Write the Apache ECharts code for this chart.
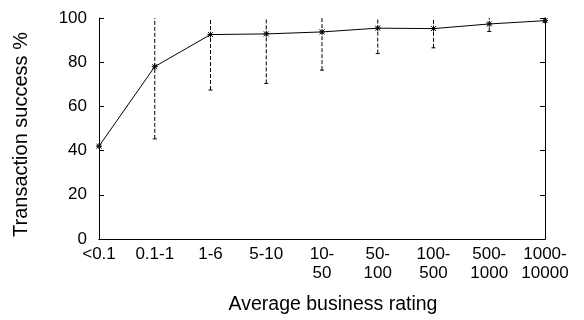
<!DOCTYPE html>
<html><head><meta charset="utf-8">
<script src="https://cdn.jsdelivr.net/npm/echarts@6/dist/echarts.min.js"></script>
<style>html,body{margin:0;padding:0;background:#fff}#c{width:584px;height:320px}</style>
</head><body><div id="c"></div>
<script>
const categories = ['<0.1','0.1-1','1-6','5-10','10-\n50','50-\n100','100-\n500','500-\n1000','1000-\n10000'];
const successPct = [42, 78, 92.5, 92.8, 93.7, 95.4, 95.2, 97.3, 98.8];
const errLow = [42, 45.3, 67.4, 70.4, 76.4, 83.9, 86.5, 93.9, 98.2];
const errHigh = [42, 100, 100, 100, 100, 100, 100, 100, 100];
const yTicks = [0, 20, 40, 60, 80, 100];

const FONT = 'Liberation Sans, Arial, sans-serif';
const chart = echarts.init(document.getElementById('c'), null, {renderer:'canvas'});
const errData = categories.map((c,i)=>[i, errLow[i], errHigh[i]]);
const ptData = categories.map((c,i)=>[i, successPct[i]]);

chart.setOption({
  animation:false,
  grid:{left:99, right:39, top:18, bottom:79},
  xAxis:[{
    type:'category', data:categories, boundaryGap:false,
    axisLine:{lineStyle:{color:'#000', width:1}},
    axisTick:{show:false},
    axisLabel:{color:'#000', fontFamily:FONT, fontSize:17, margin:6, lineHeight:19, interval:0},
    name:'Average business rating', nameLocation:'middle', nameGap:56,
    nameTextStyle:{color:'#000', fontFamily:FONT, fontSize:19.5, padding:[0,0,0,22]},
    splitLine:{show:false}
  },{
    type:'category', data:categories, boundaryGap:false, position:'top',
    axisLine:{lineStyle:{color:'#000', width:1}},
    axisTick:{show:false}, axisLabel:{show:false}
  }],
  yAxis:[{
    type:'value', min:0, max:100, interval:20,
    axisLine:{show:true, lineStyle:{color:'#000', width:1}},
    axisTick:{show:true, inside:true, length:5, lineStyle:{color:'#000'}},
    axisLabel:{color:'#000', fontFamily:FONT, fontSize:17, margin:12,
      formatter:v=>yTicks.includes(v)?String(v):''},
    splitLine:{show:false},
    name:'Transaction success %', nameLocation:'middle', nameGap:68, nameRotate:90,
    nameTextStyle:{color:'#000', fontFamily:FONT, fontSize:20, padding:[0,12,0,0]}
  },{
    type:'value', min:0, max:100, interval:20, position:'right',
    axisLine:{show:true, lineStyle:{color:'#000', width:1}},
    axisTick:{show:true, inside:true, length:5, lineStyle:{color:'#000'}},
    axisLabel:{show:false}, splitLine:{show:false}
  }],
  series:[{
    type:'custom', xAxisIndex:0, yAxisIndex:0, data:errData, z:2,
    renderItem:(params, api)=>{
      const x = api.value(0);
      const lo = api.coord([x, api.value(1)]);
      const hi = api.coord([x, api.value(2)]);
      const st = {stroke:'#000', lineWidth:1, lineDash:[4,2]};
      const cap = 2;
      return {type:'group', children:[
        {type:'line', shape:{x1:lo[0], y1:lo[1], x2:hi[0], y2:hi[1]}, style:st},
        {type:'line', shape:{x1:lo[0]-cap, y1:lo[1], x2:lo[0]+cap, y2:lo[1]}, style:{stroke:'#000', lineWidth:1}}
      ]};
    }
  },{
    type:'line', data:ptData, symbol:'none', z:3,
    lineStyle:{color:'#000', width:1}
  },{
    type:'custom', data:ptData, z:4,
    renderItem:(params, api)=>{
      const p = api.coord([api.value(0), api.value(1)]);
      const s = 3, d = 2.5;
      const st = {stroke:'#000', lineWidth:1};
      return {type:'group', children:[
        {type:'line', shape:{x1:p[0]-s, y1:p[1], x2:p[0]+s, y2:p[1]}, style:st},
        {type:'line', shape:{x1:p[0], y1:p[1]-s, x2:p[0], y2:p[1]+s}, style:st},
        {type:'line', shape:{x1:p[0]-d, y1:p[1]-d, x2:p[0]+d, y2:p[1]+d}, style:st},
        {type:'line', shape:{x1:p[0]-d, y1:p[1]+d, x2:p[0]+d, y2:p[1]-d}, style:st}
      ]};
    }
  }]
});
</script></body></html>
